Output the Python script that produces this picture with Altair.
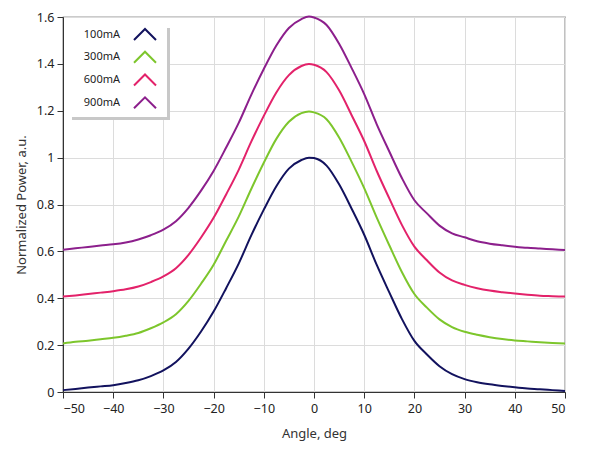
import altair as alt
import pandas as pd

angles = [-50, -47.5, -45, -42.5, -40, -37.5, -35, -32.5, -30, -27.5, -25, -22.5,
          -20, -17.5, -15, -12.5, -10, -7.5, -5, -2.5, -1, 0, 2.5, 5, 7.5, 10,
          12.5, 15, 17.5, 20, 22.5, 25, 27.5, 30, 32.5, 35, 37.5, 40, 42.5, 45,
          47.5, 50]

p100 = [0.008, 0.013, 0.019, 0.024, 0.029, 0.038, 0.050, 0.068, 0.092, 0.128,
        0.185, 0.258, 0.343, 0.443, 0.548, 0.668, 0.778, 0.878, 0.953, 0.990,
        1.000, 0.998, 0.966, 0.886, 0.782, 0.671, 0.542, 0.425, 0.312, 0.218,
        0.160, 0.110, 0.076, 0.055, 0.042, 0.033, 0.026, 0.020, 0.015, 0.012,
        0.008, 0.004]
p300 = [0.207, 0.214, 0.219, 0.225, 0.231, 0.240, 0.252, 0.272, 0.297, 0.332,
        0.389, 0.462, 0.543, 0.645, 0.748, 0.866, 0.978, 1.080, 1.153, 1.190,
        1.197, 1.193, 1.164, 1.086, 0.982, 0.870, 0.744, 0.626, 0.512, 0.418,
        0.360, 0.310, 0.277, 0.257, 0.244, 0.234, 0.226, 0.220, 0.216, 0.212,
        0.209, 0.207]
p600 = [0.407, 0.412, 0.418, 0.424, 0.430, 0.438, 0.450, 0.469, 0.493, 0.528,
        0.585, 0.659, 0.743, 0.843, 0.948, 1.068, 1.178, 1.278, 1.352, 1.391,
        1.399, 1.396, 1.365, 1.287, 1.181, 1.071, 0.943, 0.826, 0.713, 0.620,
        0.562, 0.510, 0.476, 0.457, 0.443, 0.433, 0.426, 0.420, 0.415, 0.411,
        0.409, 0.407]
p900 = [0.607, 0.613, 0.619, 0.625, 0.630, 0.638, 0.651, 0.669, 0.693, 0.729,
        0.786, 0.859, 0.943, 1.043, 1.148, 1.268, 1.378, 1.478, 1.553, 1.591,
        1.602, 1.598, 1.566, 1.486, 1.382, 1.271, 1.142, 1.026, 0.913, 0.818,
        0.762, 0.710, 0.677, 0.660, 0.643, 0.633, 0.626, 0.620, 0.615, 0.612,
        0.609, 0.606]

series = ["100mA", "300mA", "600mA", "900mA"]
colors = ["#12125e", "#7dc62c", "#e3226a", "#8c1f8c"]
x_ticks = [-50, -40, -30, -20, -10, 0, 10, 20, 30, 40, 50]
y_ticks = [0, 0.2, 0.4, 0.6, 0.8, 1.0, 1.2, 1.4, 1.6]

rows = []
for name, vals in zip(series, [p100, p300, p600, p900]):
    for a, v in zip(angles, vals):
        rows.append({"angle": a, "power": v, "series": name})
df = pd.DataFrame(rows)
legend_df = pd.DataFrame({"series": series})

FONT = "Noto Sans"
color_enc = alt.Color("series:N", scale=alt.Scale(domain=series, range=colors), legend=None)

lines = alt.Chart(df).mark_line(strokeWidth=2, interpolate="monotone").encode(
    x=alt.X("angle:Q", scale=alt.Scale(domain=[-50, 50], nice=False),
            axis=alt.Axis(values=x_ticks, title="Angle, deg", titlePadding=13,
                          labelPadding=4)),
    y=alt.Y("power:Q", scale=alt.Scale(domain=[0, 1.6], nice=False),
            axis=alt.Axis(values=y_ticks, format="~g", title="Normalized Power, a.u.",
                          titlePadding=8)),
    color=color_enc,
)

one = pd.DataFrame({"k": [0]})
shadow = alt.Chart(one).mark_rect(color="#c8c8c8").encode(
    x=alt.value(9), x2=alt.value(107), y=alt.value(11), y2=alt.value(103)
)
box = alt.Chart(one).mark_rect(color="white").encode(
    x=alt.value(1), x2=alt.value(104), y=alt.value(1), y2=alt.value(100)
)
leg_y = alt.Y("series:N", scale=alt.Scale(domain=series, range=[17.5, 85.8], padding=0),
              axis=None)
leg_text = alt.Chart(legend_df).mark_text(
    align="right", baseline="middle", font=FONT, fontSize=11, color="#222"
).encode(x=alt.value(57), y=leg_y, text="series:N")
leg_sym = alt.Chart(legend_df).mark_point(
    shape="M-1,0.5L0,-0.5L1,0.5", size=484, filled=False, strokeWidth=2, opacity=1
).encode(x=alt.value(82), y=leg_y, color=color_enc)

chart = alt.layer(lines, shadow, box, leg_text, leg_sym).resolve_scale(
    y="independent"
).properties(
    width=502, height=375, padding={"left": 7, "top": 3, "right": 5, "bottom": 5}
).configure_view(stroke="#333", strokeWidth=1.2).configure_axis(
    labelFont=FONT, labelFontSize=12.5, labelColor="#222", titleFont=FONT,
    titleFontSize=13, titleFontWeight="normal", titleColor="#333",
    domainColor="#333", tickColor="#333", tickSize=6, labelPadding=3,
    gridColor="#dcdcdc", gridWidth=1
)

chart.save("out.html", embed_options={"renderer": "svg", "actions": False})
